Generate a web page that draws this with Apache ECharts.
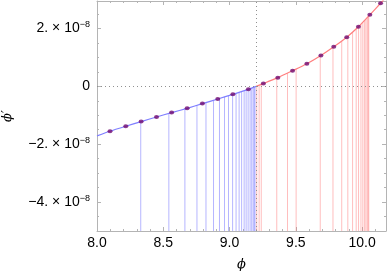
<!DOCTYPE html>
<html><head><meta charset="utf-8">
<script src="https://cdn.jsdelivr.net/npm/echarts@6/dist/echarts.min.js"></script>
<style>html,body{margin:0;padding:0;background:#fff}#c{width:387px;height:273px}</style>
</head><body><div id="c"></div>
<script>
// values of phi' are in units of 1e-8
const xMin = 8.0, xMax = 10.18, yMin = -5, yMax = 2.95;
const xTicks = [8.0, 8.5, 9.0, 9.5, 10.0];
const yTicks = [-4, -2, 0, 2];
const yMinorTicks = [-5, -4.5, -3.5, -3, -2.5, -1.5, -1, -0.5, 0.5, 1, 1.5, 2.5];
const curveBlue = [[8.000,-1.714],[8.098,-1.552],[8.217,-1.379],[8.333,-1.217],[8.449,-1.059],[8.563,-0.907],[8.680,-0.759],[8.795,-0.597],[8.911,-0.438],[9.025,-0.276],[9.142,-0.103],[9.200,0.000]];
const curveRed = [[9.200,0.000],[9.255,0.097],[9.364,0.300],[9.475,0.541],[9.583,0.783],[9.689,1.069],[9.786,1.369],[9.884,1.700],[9.972,2.059],[10.058,2.472],[10.139,2.872],[10.180,3.080]];
const dotsX = [8.098,8.217,8.333,8.449,8.563,8.680,8.795,8.911,9.025,9.142,9.255,9.364,9.475,9.583,9.689,9.786,9.884,9.972,10.058,10.139];
const dotsY = [-1.552,-1.379,-1.217,-1.059,-0.907,-0.759,-0.597,-0.438,-0.276,-0.103,0.097,0.300,0.541,0.783,1.069,1.369,1.700,2.059,2.472,2.872];
const blueX = [8.330,8.542,8.663,8.754,8.822,8.879,8.924,8.962,8.992,9.023,9.049,9.072,9.091,9.110,9.125,9.140,9.155,9.167,9.178,9.186,9.192];
const blueY = [-1.221,-0.935,-0.780,-0.655,-0.560,-0.482,-0.420,-0.366,-0.323,-0.279,-0.241,-0.207,-0.179,-0.150,-0.128,-0.106,-0.082,-0.063,-0.045,-0.032,-0.020];
const redX = [9.205,9.223,9.239,9.356,9.437,9.502,9.684,9.780,9.846,9.892,9.928,9.955,9.973,9.991,10.005,10.017,10.028,10.038,10.045,10.050];
const redY = [0.009,0.040,0.068,0.285,0.457,0.600,1.055,1.350,1.570,1.730,1.875,1.987,2.063,2.150,2.215,2.272,2.325,2.373,2.408,2.433];

const frame = '#b4b4b4';
const font = 'Liberation Sans, Arial, sans-serif';
function zip(a,b){return a.map((v,i)=>[v,b[i]]);}
function stems(color){
  return function(params, api){
    const x = api.value(0), y = api.value(1);
    const p1 = api.coord([x, y]), p0 = api.coord([x, yMin]);
    return {type:'line', shape:{x1:p0[0],y1:p0[1],x2:p1[0],y2:p1[1]}, style:{stroke:color, lineWidth:1}};
  };
}
const chart = echarts.init(document.getElementById('c'), null, {renderer:'canvas'});
const yLabel = v => {
  if (Math.abs(v) < 1e-9) return '{m|0}';
  return '{m|' + (v<0?'\u2212':'') + Math.abs(v) + '. \u00d7 10}{s|\u22128}';
};
const xAxisBase = {type:'value', min:xMin, max:xMax, interval:0.5,
  axisLine:{show:true, onZero:false, lineStyle:{color:frame, width:1}},
  axisTick:{inside:true, length:4, lineStyle:{color:frame}},
  minorTick:{show:true, splitNumber:5, length:2, lineStyle:{color:frame}},
  splitLine:{show:false}};
const yAxisBase = {type:'value', min:yMin, max:yMax,
  axisLine:{show:true, onZero:false, lineStyle:{color:frame, width:1}},
  axisTick:{inside:true, length:4, customValues:yTicks, lineStyle:{color:frame}},
  splitLine:{show:false}};
chart.setOption({
  animation:false,
  grid:{left:97, right:1, top:1, bottom:42, containLabel:false, outerBoundsMode:'none'},
  xAxis:[
    Object.assign({}, xAxisBase, {position:'bottom',
      axisLabel:{color:'#000', fontFamily:font, fontSize:14, margin:5, formatter:v=>v.toFixed(1), customValues:xTicks},
      name:'\u03d5', nameLocation:'middle', nameGap:27, nameTextStyle:{color:'#000', fontFamily:'DejaVu Serif', fontStyle:'italic', fontSize:13}}),
    Object.assign({}, xAxisBase, {position:'top', axisLabel:{show:false}})
  ],
  yAxis:[
    Object.assign({}, yAxisBase, {position:'left',
      axisLabel:{color:'#000', fontFamily:font, fontSize:14, margin:7, align:'right', customValues:yTicks, formatter:yLabel,
        rich:{m:{fontFamily:font, fontSize:14, color:'#000'}, s:{fontFamily:font, fontSize:9, color:'#000', verticalAlign:'top', padding:[0,0,8,0]}}},
      name:'\u03d5\u2032', nameLocation:'middle', nameGap:83, nameRotate:90,
      nameTextStyle:{color:'#000', fontFamily:'DejaVu Serif', fontStyle:'italic', fontSize:13}}),
    Object.assign({}, yAxisBase, {position:'right', axisLabel:{show:false}}),
    Object.assign({}, yAxisBase, {position:'left', axisLine:{show:false}, axisLabel:{show:false},
      axisTick:{inside:true, length:2, customValues:yMinorTicks, lineStyle:{color:frame}}}),
    Object.assign({}, yAxisBase, {position:'right', axisLine:{show:false}, axisLabel:{show:false},
      axisTick:{inside:true, length:2, customValues:yMinorTicks, lineStyle:{color:frame}}})
  ],
  series:[
    {type:'custom', renderItem:stems('rgba(110,110,255,0.5)'), data:zip(blueX, blueY), silent:true, clip:true, z:1},
    {type:'custom', renderItem:stems('rgba(255,110,110,0.45)'), data:zip(redX, redY), silent:true, clip:true, z:1},
    {type:'line', data:curveBlue, showSymbol:false, smooth:0.2, lineStyle:{color:'#7f7fff', width:1.2}, z:3,
      markLine:{silent:true, symbol:'none', label:{show:false},
        lineStyle:{color:'#909090', type:[1,3], width:1},
        data:[{xAxis:9.2},{yAxis:0}]}},
    {type:'line', data:curveRed, showSymbol:false, smooth:0.2, lineStyle:{color:'#ff7f7f', width:1.2}, z:3, clip:true},
    {type:'scatter', data:zip(dotsX, dotsY), symbol:'circle', symbolSize:[5,4], itemStyle:{color:'#700a70'}, z:4}
  ]
});
</script></body></html>
